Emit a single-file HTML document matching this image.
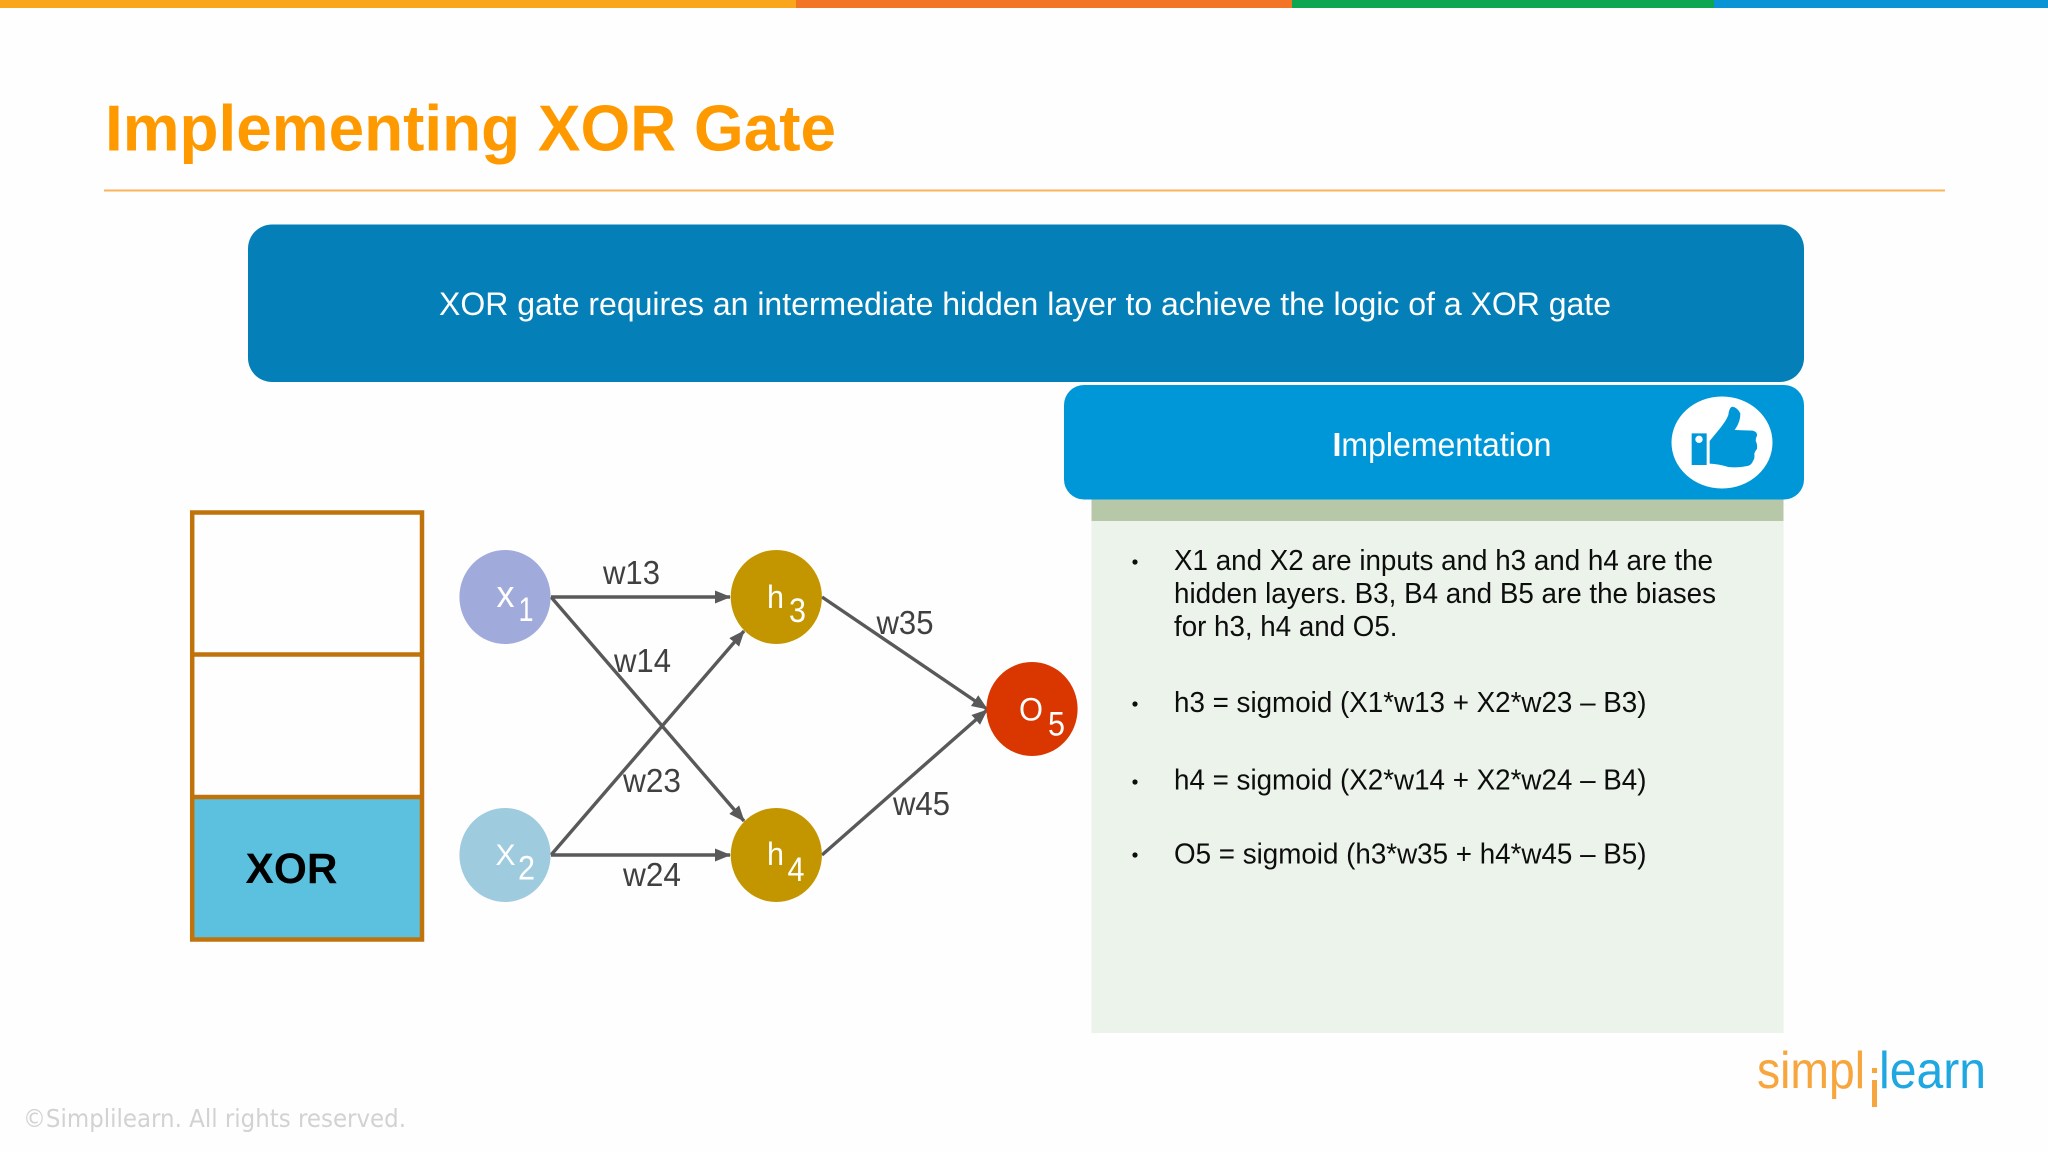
<!DOCTYPE html>
<html lang="en">
<head>
<meta charset="utf-8">
<title>Implementing XOR Gate</title>
<style>
html,body{margin:0;padding:0;background:#fefefe;width:2048px;height:1152px;overflow:hidden}
svg{display:block}
text{font-family:"Liberation Sans",Arial,sans-serif}
.body{font-size:29px;fill:#0d0d0d}
.edge{font-size:33px;fill:#404040}
.node{font-size:38px;fill:#fff}
.sub{font-size:34px;fill:#fff}
.nl{font-size:32px;fill:#fff}
</style>
</head>
<body>
<svg width="2048" height="1152" viewBox="0 0 2048 1152" xmlns="http://www.w3.org/2000/svg">
<defs>
<marker id="a" markerUnits="userSpaceOnUse" markerWidth="16" markerHeight="16" refX="15" refY="8" orient="auto">
<path d="M0,1.5 L16,8 L0,14.5 Z" fill="#595959"/>
</marker>
</defs>
<rect width="2048" height="1152" fill="#fefefe"/>
<!-- top bar -->
<rect x="0" y="0" width="796" height="8" fill="#faa61a"/>
<rect x="796" y="0" width="496" height="8" fill="#f47425"/>
<rect x="1292" y="0" width="422" height="8" fill="#0ca750"/>
<rect x="1714" y="0" width="334" height="8" fill="#0a94d6"/>
<!-- title -->
<text x="105" y="150.5" font-size="65" font-weight="700" fill="#ff9900" textLength="731" lengthAdjust="spacingAndGlyphs">Implementing XOR Gate</text>
<rect x="104" y="189.5" width="1841" height="2" fill="#fbb45c"/>
<!-- banner -->
<rect x="248" y="224.5" width="1556" height="157.5" rx="24" ry="24" fill="#047fb8"/>
<text x="439" y="315" font-size="32.5" fill="#fff" textLength="1172" lengthAdjust="spacingAndGlyphs">XOR gate requires an intermediate hidden layer to achieve the logic of a XOR gate</text>
<!-- panel -->
<rect x="1091.5" y="500" width="692" height="533" fill="#ebf3ea"/>
<rect x="1091.5" y="498" width="692" height="23" fill="#b6c8a8"/>
<rect x="1064" y="385" width="740" height="114.5" rx="20" ry="20" fill="#0097d9"/>
<text x="1332.5" y="456" font-size="33.5" fill="#fff" textLength="219" lengthAdjust="spacingAndGlyphs"><tspan font-weight="700">I</tspan>mplementation</text>
<ellipse cx="1722" cy="442.5" rx="50.5" ry="46" fill="#fff"/>
<g transform="translate(1660 380) scale(.3333)" fill="#0097d9">
<path d="M95,160 H140 V255 H95 Z M117,167 a11,11 0 1,0 .01,0 Z" fill-rule="evenodd"/>
<path d="M149,183 L180,145 Q200,120 205,105 Q207,85 216,80 Q232,82 241,100 Q242,125 224,150 L278,152 Q292,155 291,167 Q287,175 287,182 Q293,195 291,207 Q284,215 283,222 Q285,235 279,243 Q274,256 262,258 Q235,264 205,261 Q175,252 149,251 Z"/>
</g>
<!-- panel text -->
<circle cx="1135" cy="562" r="2.6" fill="#0d0d0d"/>
<text class="body" x="1174" y="570" textLength="539" lengthAdjust="spacingAndGlyphs">X1 and X2 are inputs and h3 and h4 are the</text>
<text class="body" x="1174" y="603" textLength="542" lengthAdjust="spacingAndGlyphs">hidden layers. B3, B4 and B5 are the biases</text>
<text class="body" x="1174" y="636" textLength="223.5" lengthAdjust="spacingAndGlyphs">for h3, h4 and O5.</text>
<circle cx="1135" cy="704" r="2.6" fill="#0d0d0d"/>
<text class="body" x="1174" y="712" textLength="472.5" lengthAdjust="spacingAndGlyphs">h3 = sigmoid (X1*w13 + X2*w23 – B3)</text>
<circle cx="1135" cy="782" r="2.6" fill="#0d0d0d"/>
<text class="body" x="1174" y="789.5" textLength="472.5" lengthAdjust="spacingAndGlyphs">h4 = sigmoid (X2*w14 + X2*w24 – B4)</text>
<circle cx="1135" cy="855" r="2.6" fill="#0d0d0d"/>
<text class="body" x="1174" y="863.5" textLength="472.5" lengthAdjust="spacingAndGlyphs">O5 = sigmoid (h3*w35 + h4*w45 – B5)</text>
<!-- XOR stack -->
<rect x="192.2" y="797" width="229.8" height="142.5" fill="#5bc1df"/>
<g fill="none" stroke="#c0720b" stroke-width="4.5">
<rect x="192.2" y="512.5" width="229.8" height="427"/>
<line x1="192" y1="654.5" x2="422" y2="654.5"/>
<line x1="192" y1="797" x2="422" y2="797"/>
</g>
<text x="245.5" y="883" font-size="43" font-weight="700" fill="#000" textLength="92" lengthAdjust="spacingAndGlyphs">XOR</text>
<!-- connectors -->
<g stroke="#595959" stroke-width="3.4" fill="none" marker-end="url(#a)">
<line x1="551" y1="597" x2="730" y2="597"/>
<line x1="551" y1="597" x2="744" y2="821"/>
<line x1="551" y1="855" x2="744" y2="631"/>
<line x1="551" y1="855" x2="730" y2="855"/>
<line x1="822" y1="597" x2="987" y2="709"/>
<line x1="822" y1="855" x2="987" y2="710"/>
</g>
<!-- nodes -->
<ellipse cx="505" cy="597" rx="45.6" ry="47" fill="#a0aadb"/>
<ellipse cx="505" cy="855" rx="45.6" ry="47" fill="#9fcbdf"/>
<ellipse cx="776.3" cy="597" rx="45.6" ry="47" fill="#c39600"/>
<ellipse cx="776.3" cy="855" rx="45.6" ry="47" fill="#c39600"/>
<ellipse cx="1032" cy="709" rx="45.6" ry="47" fill="#d93600"/>
<text class="node" x="496.5" y="607" textLength="18" lengthAdjust="spacingAndGlyphs">x</text>
<text class="sub" x="518.5" y="621" textLength="15" lengthAdjust="spacingAndGlyphs">1</text>
<text x="495.5" y="865" font-size="30" fill="#fff" textLength="20" lengthAdjust="spacingAndGlyphs">X</text>
<text class="sub" x="518" y="879.5" textLength="17" lengthAdjust="spacingAndGlyphs">2</text>
<text class="nl" x="767" y="608" textLength="17" lengthAdjust="spacingAndGlyphs">h</text>
<text class="sub" x="789" y="622" textLength="17" lengthAdjust="spacingAndGlyphs">3</text>
<text class="nl" x="767" y="865" textLength="17" lengthAdjust="spacingAndGlyphs">h</text>
<text class="sub" x="787.5" y="881" textLength="17" lengthAdjust="spacingAndGlyphs">4</text>
<text class="nl" x="1019" y="720.5" textLength="24" lengthAdjust="spacingAndGlyphs">O</text>
<text class="sub" x="1048" y="735.5" textLength="17" lengthAdjust="spacingAndGlyphs">5</text>
<!-- edge labels -->
<text class="edge" x="603" y="584" textLength="57" lengthAdjust="spacingAndGlyphs">w13</text>
<text class="edge" x="614" y="672" textLength="57" lengthAdjust="spacingAndGlyphs">w14</text>
<text class="edge" x="623" y="792" textLength="58" lengthAdjust="spacingAndGlyphs">w23</text>
<text class="edge" x="623" y="886" textLength="58" lengthAdjust="spacingAndGlyphs">w24</text>
<text class="edge" x="876.5" y="634" textLength="57" lengthAdjust="spacingAndGlyphs">w35</text>
<text class="edge" x="893" y="815" textLength="57" lengthAdjust="spacingAndGlyphs">w45</text>
<!-- footer -->
<text x="23" y="1127" font-size="25" style="font-family:'DejaVu Sans',sans-serif" fill="#d2d2d2" textLength="383" lengthAdjust="spacingAndGlyphs">©Simplilearn. All rights reserved.</text>
<!-- logo -->
<text x="1757" y="1088" font-size="52" fill="#f6a63c" textLength="108" lengthAdjust="spacingAndGlyphs">simpl</text>
<rect x="1872" y="1068" width="5" height="5" fill="#f6a63c"/>
<rect x="1872" y="1080" width="5" height="27" fill="#f6a63c"/>
<text x="1879" y="1088" font-size="52" fill="#1ea7e0" textLength="107" lengthAdjust="spacingAndGlyphs">learn</text>
</svg>
</body>
</html>
